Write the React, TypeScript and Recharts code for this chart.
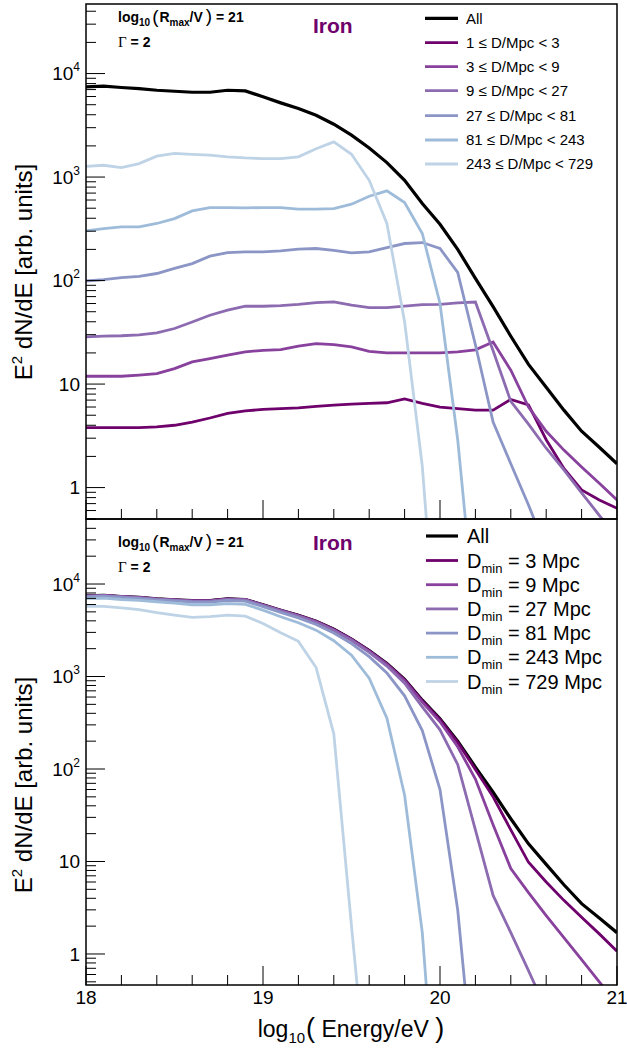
import React from "react";
import { LineChart, Line, XAxis, YAxis } from "recharts";

// log10(E/eV) bin positions
const ENERGY = [
  18.0, 18.1, 18.2, 18.3, 18.4, 18.5, 18.6, 18.7, 18.8, 18.9,
  19.0, 19.1, 19.2, 19.3, 19.4, 19.5, 19.6, 19.7, 19.8, 19.9,
  20.0, 20.1, 20.2, 20.3, 20.4, 20.5, 20.6, 20.7, 20.8, 20.9, 21.0,
];

// total spectrum (same curve in both panels)
const ALL = [7430, 7550, 7330, 7160, 6900, 6750, 6600, 6600, 6900, 6800, 5960, 5210, 4590, 3950, 3240, 2540, 1910, 1380, 930, 555, 350, 200, 105, 56, 29, 15.5, 9.3, 5.6, 3.5, 2.45, 1.7];

// top panel: distance shells
const BIN_1_3 = [3.8, 3.8, 3.8, 3.8, 3.85, 4.0, 4.3, 4.7, 5.2, 5.5, 5.7, 5.8, 5.9, 6.1, 6.25, 6.4, 6.5, 6.6, 7.2, 6.5, 6.0, 5.8, 5.6, 5.6, 7.1, 6.3, 2.9, 1.53, 0.95, 0.76, 0.63];
const BIN_3_9 = [11.9, 11.9, 11.9, 12.2, 12.6, 14.1, 16.4, 17.6, 19.0, 20.5, 21.2, 21.5, 23.2, 24.6, 24.1, 22.9, 20.7, 20.0, 20.0, 20.0, 20.0, 20.5, 21.4, 25.5, 13.6, 6.0, 3.5, 2.3, 1.58, 1.1, 0.76];
const BIN_9_27 = [28.6, 29.0, 29.3, 29.9, 31.2, 34.4, 39.8, 46.2, 51.7, 56.5, 56.5, 57.3, 59.0, 61.3, 62.2, 57.8, 54.8, 54.8, 56.5, 58.6, 59.0, 61.0, 62.0, 21.0, 6.8, 4.1, 2.4, 1.48, 0.89, 0.54, 0.33];
const BIN_27_81 = [99, 102, 107, 110, 117, 131, 146, 172, 186, 189, 189, 194, 201, 204, 196, 185, 189, 208, 228, 233, 204, 120, 24, 4.3, 1.7, 0.68, 0.25, null, null, null, null];
const BIN_81_243 = [302, 318, 330, 330, 356, 397, 471, 507, 507, 504, 507, 507, 489, 489, 496, 547, 653, 735, 568, 285, 60, 2.9, 0.05, null, null, null, null, null, null, null, null];
const BIN_243_729 = [1270, 1300, 1235, 1350, 1590, 1690, 1660, 1630, 1570, 1530, 1510, 1510, 1570, 1880, 2190, 1660, 930, 356, 40, 1.6, 0.01, null, null, null, null, null, null, null, null, null, null];

// bottom panel: minimum source distance
const DMIN_3 = [7426, 7546, 7326, 7156, 6896, 6746, 6596, 6595, 6895, 6794, 5954, 5204, 4584, 3944, 3234, 2534, 1904, 1373, 923, 548, 344, 194, 99, 50, 22, 9.8, 6.0, 3.8, 2.5, 1.65, 1.07];
const DMIN_9 = [7414, 7534, 7314, 7144, 6883, 6732, 6580, 6577, 6876, 6774, 5933, 5183, 4561, 3919, 3210, 2511, 1883, 1353, 903, 528, 324, 174, 78, 25, 8.4, 4.6, 2.6, 1.5, 0.87, 0.5, 0.29];
const DMIN_27 = [7385, 7505, 7285, 7114, 6852, 6698, 6540, 6531, 6824, 6717, 5876, 5125, 4502, 3858, 3148, 2453, 1828, 1298, 846, 470, 265, 112, 22, 4.3, 1.7, 0.66, 0.25, null, null, null, null];
const DMIN_81 = [7286, 7403, 7178, 7004, 6735, 6567, 6394, 6359, 6638, 6528, 5687, 4931, 4301, 3654, 2952, 2268, 1639, 1090, 618, 260, 60, 3.0, 0.03, null, null, null, null, null, null, null, null];
const DMIN_243 = [7010, 7050, 6800, 6650, 6430, 6230, 5970, 5970, 6150, 6030, 5220, 4430, 3810, 3170, 2440, 1700, 960, 355, 52, 1.7, 0.005, null, null, null, null, null, null, null, null, null, null];
const DMIN_729 = [5750, 5720, 5530, 5280, 4900, 4600, 4350, 4450, 4600, 4500, 3750, 2980, 2400, 1250, 240, 2.0, 0.02, null, null, null, null, null, null, null, null, null, null, null, null, null, null];

const X_TICKS = [18, 18.2, 18.4, 18.6, 18.8, 19, 19.2, 19.4, 19.6, 19.8, 20, 20.2, 20.4, 20.6, 20.8, 21];
const X_LABELS = [18, 19, 20, 21];
const Y_DECADES = [0.1, 1, 10, 100, 1000, 10000];
const Y_LABELS = [1, 10, 100, 1000, 10000];

const COLORS = ["#000000", "#6e016b", "#88419d", "#8c6bb1", "#8c96c6", "#9ebcda", "#bfd3e6"];

const TOP_SERIES = [
  { key: "all", label: "All", values: ALL },
  { key: "b1", label: "1 ≤ D/Mpc < 3", values: BIN_1_3 },
  { key: "b3", label: "3 ≤ D/Mpc < 9", values: BIN_3_9 },
  { key: "b9", label: "9 ≤ D/Mpc < 27", values: BIN_9_27 },
  { key: "b27", label: "27 ≤ D/Mpc < 81", values: BIN_27_81 },
  { key: "b81", label: "81 ≤ D/Mpc < 243", values: BIN_81_243 },
  { key: "b243", label: "243 ≤ D/Mpc < 729", values: BIN_243_729 },
];

const BOTTOM_SERIES = [
  { key: "all", label: "All", values: ALL },
  { key: "d3", label: "3", values: DMIN_3 },
  { key: "d9", label: "9", values: DMIN_9 },
  { key: "d27", label: "27", values: DMIN_27 },
  { key: "d81", label: "81", values: DMIN_81 },
  { key: "d243", label: "243", values: DMIN_243 },
  { key: "d729", label: "729", values: DMIN_729 },
];

const FONT = '"Liberation Sans", Arial, Helvetica, sans-serif';
const PAGE_W = 627;
const PAGE_H = 1057;
const PLOT_LEFT = 86;
const PLOT_RIGHT = 617;
const SPLIT = 519;

const yTicksFor = (domain: number[]) => {
  const out: number[] = [];
  Y_DECADES.forEach((d) => {
    for (let m = 1; m < 10; m++) {
      const v = +(d * m).toPrecision(3);
      if (v >= domain[0] && v <= domain[1]) out.push(v);
    }
  });
  return out;
};

const YTick = ({ y, payload }: any) => {
  const v = payload.value;
  const major = Y_LABELS.includes(v);
  const exp = Math.round(Math.log10(v));
  return (
    <g>
      <line x1={PLOT_LEFT} x2={PLOT_LEFT + (major ? 19 : 10)} y1={y} y2={y} stroke="#000" strokeWidth={1} />
      {major && (
        <text x={PLOT_LEFT - 6} y={y} dy="0.36em" textAnchor="end" fontFamily={FONT} fontSize={19} fill="#000">
          {exp === 0 ? "1" : "10"}
          {exp > 1 && (
            <tspan dy={-9} fontSize={12}>
              {exp}
            </tspan>
          )}
        </text>
      )}
    </g>
  );
};

const XTick = ({ x, payload, plotBottom, showLabel }: any) => {
  const v = payload.value;
  const major = X_LABELS.includes(v);
  return (
    <g>
      <line x1={x} x2={x} y1={plotBottom} y2={plotBottom - (major ? 19 : 10)} stroke="#000" strokeWidth={1} />
      {major && showLabel && (
        <text x={x} y={plotBottom + 19} textAnchor="middle" fontFamily={FONT} fontSize={19} fill="#000">
          {v}
        </text>
      )}
    </g>
  );
};

function Panel({ series, domain, top, height, plotTop, plotBottom, showLabels }: any) {
  const rows = ENERGY.map((e, i) => {
    const r: any = { e };
    series.forEach((s: any) => {
      r[s.key] = s.values[i];
    });
    return r;
  });
  return (
    <div style={{ position: "absolute", left: 0, top, width: PAGE_W, height }}>
      <LineChart
        width={PAGE_W}
        height={height}
        data={rows}
        margin={{ top: plotTop, right: PAGE_W - PLOT_RIGHT, bottom: 0, left: 0 }}
      >
        <XAxis
          type="number"
          dataKey="e"
          domain={[18, 21]}
          ticks={X_TICKS}
          interval={0}
          allowDataOverflow
          axisLine={false}
          tickLine={false}
          height={height - plotBottom}
          tick={(p: any) => <XTick {...p} plotBottom={plotBottom} showLabel={showLabels} />}
        />
        <YAxis
          type="number"
          scale="log"
          domain={domain}
          ticks={yTicksFor(domain)}
          interval={0}
          allowDataOverflow
          axisLine={false}
          tickLine={false}
          width={PLOT_LEFT}
          tick={(p: any) => <YTick {...p} />}
        />
        {series.map((s: any, i: number) => (
          <Line
            key={s.key}
            type="linear"
            dataKey={s.key}
            stroke={COLORS[i]}
            strokeWidth={i === 0 ? 3.2 : 2.8}
            dot={false}
            activeDot={false}
            connectNulls={false}
            isAnimationActive={false}
          />
        ))}
      </LineChart>
    </div>
  );
}

function ModelText({ y }: { y: number }) {
  return (
    <g fontFamily={FONT} fill="#000">
      <text x={118} y={y} fontSize={14} fontWeight="bold">
        log
        <tspan fontSize={10} dy={4}>10</tspan>
        <tspan fontSize={19} fontWeight="normal" dy={-3} dx={2}>(</tspan>
        <tspan dx={1} dy={-1}>R</tspan>
        <tspan fontSize={10} dy={4}>max</tspan>
        <tspan dy={-4}>/V</tspan>
        <tspan fontSize={19} fontWeight="normal" dx={3}>)</tspan>
        <tspan> = 21</tspan>
      </text>
      <text x={118} y={y + 25} fontSize={14}>
        <tspan fontFamily='"Liberation Serif", "DejaVu Serif", serif' fontSize={15}>Γ</tspan>
        <tspan fontWeight="bold"> = 2</tspan>
      </text>
    </g>
  );
}

export default function App() {
  const topDomain = [0.497, 46990];
  const bottomDomain = [0.462, 50470];
  const topRows = [18.3, 42.7, 66.7, 90.7, 115.7, 140, 164];
  const bottomRows = [536, 560.5, 584.7, 608.9, 633.1, 657.3, 681.5];

  return (
    <div style={{ position: "absolute", left: 0, top: 0, width: PAGE_W, height: PAGE_H, background: "#fff" }}>
      <Panel series={TOP_SERIES} domain={topDomain} top={0} height={SPLIT + 1} plotTop={4} plotBottom={SPLIT} showLabels={false} />
      <Panel series={BOTTOM_SERIES} domain={bottomDomain} top={SPLIT} height={PAGE_H - SPLIT} plotTop={0} plotBottom={466} showLabels={true} />

      <svg width={PAGE_W} height={PAGE_H} style={{ position: "absolute", left: 0, top: 0, pointerEvents: "none" }}>
        {/* frames */}
        <rect x={PLOT_LEFT} y={4} width={PLOT_RIGHT - PLOT_LEFT} height={SPLIT - 4} fill="none" stroke="#000" strokeWidth={1.5} />
        <rect x={PLOT_LEFT} y={SPLIT} width={PLOT_RIGHT - PLOT_LEFT} height={466} fill="none" stroke="#000" strokeWidth={1.5} />

        {/* annotations */}
        <ModelText y={22} />
        <ModelText y={547} />
        <text x={313} y={32.5} fontFamily={FONT} fontSize={21} fontWeight="bold" fill="#6e016b">Iron</text>
        <text x={313} y={549.5} fontFamily={FONT} fontSize={21} fontWeight="bold" fill="#6e016b">Iron</text>

        {/* top legend */}
        {TOP_SERIES.map((s, i) => (
          <g key={s.key}>
            <line x1={425} x2={458} y1={topRows[i]} y2={topRows[i]} stroke={COLORS[i]} strokeWidth={i === 0 ? 3.2 : 2.8} />
            <text x={466} y={topRows[i] + 5.4} fontFamily={FONT} fontSize={15} fill="#000">{s.label}</text>
          </g>
        ))}

        {/* bottom legend */}
        {BOTTOM_SERIES.map((s, i) => (
          <g key={s.key}>
            <line x1={426} x2={458} y1={bottomRows[i]} y2={bottomRows[i]} stroke={COLORS[i]} strokeWidth={i === 0 ? 3.2 : 2.8} />
            {i === 0 ? (
              <text x={467} y={bottomRows[i] + 7} fontFamily={FONT} fontSize={20} fill="#000">All</text>
            ) : (
              <text x={467} y={bottomRows[i] + 7} fontFamily={FONT} fontSize={20} fill="#000">
                D<tspan fontSize={13} dy={5}>min</tspan>
                <tspan dy={-5}>{` = ${s.label} Mpc`}</tspan>
              </text>
            )}
          </g>
        ))}

        {/* axis titles */}
        <text transform="translate(32, 272) rotate(-90)" textAnchor="middle" fontFamily={FONT} fontSize={24} fill="#000">
          E<tspan fontSize={15} dy={-10}>2</tspan>
          <tspan dy={10}> dN/dE [arb. units]</tspan>
        </text>
        <text transform="translate(32, 785) rotate(-90)" textAnchor="middle" fontFamily={FONT} fontSize={24} fill="#000">
          E<tspan fontSize={15} dy={-10}>2</tspan>
          <tspan dy={10}> dN/dE [arb. units]</tspan>
        </text>
        <text x={351} y={1037} textAnchor="middle" fontFamily={FONT} fontSize={23} fill="#000">
          log<tspan fontSize={15} dy={6}>10</tspan>
          <tspan fontSize={27} dy={-6} dx={1}>(</tspan>
          <tspan fontSize={23}> Energy/eV </tspan>
          <tspan fontSize={27}>)</tspan>
        </text>
      </svg>
    </div>
  );
}
